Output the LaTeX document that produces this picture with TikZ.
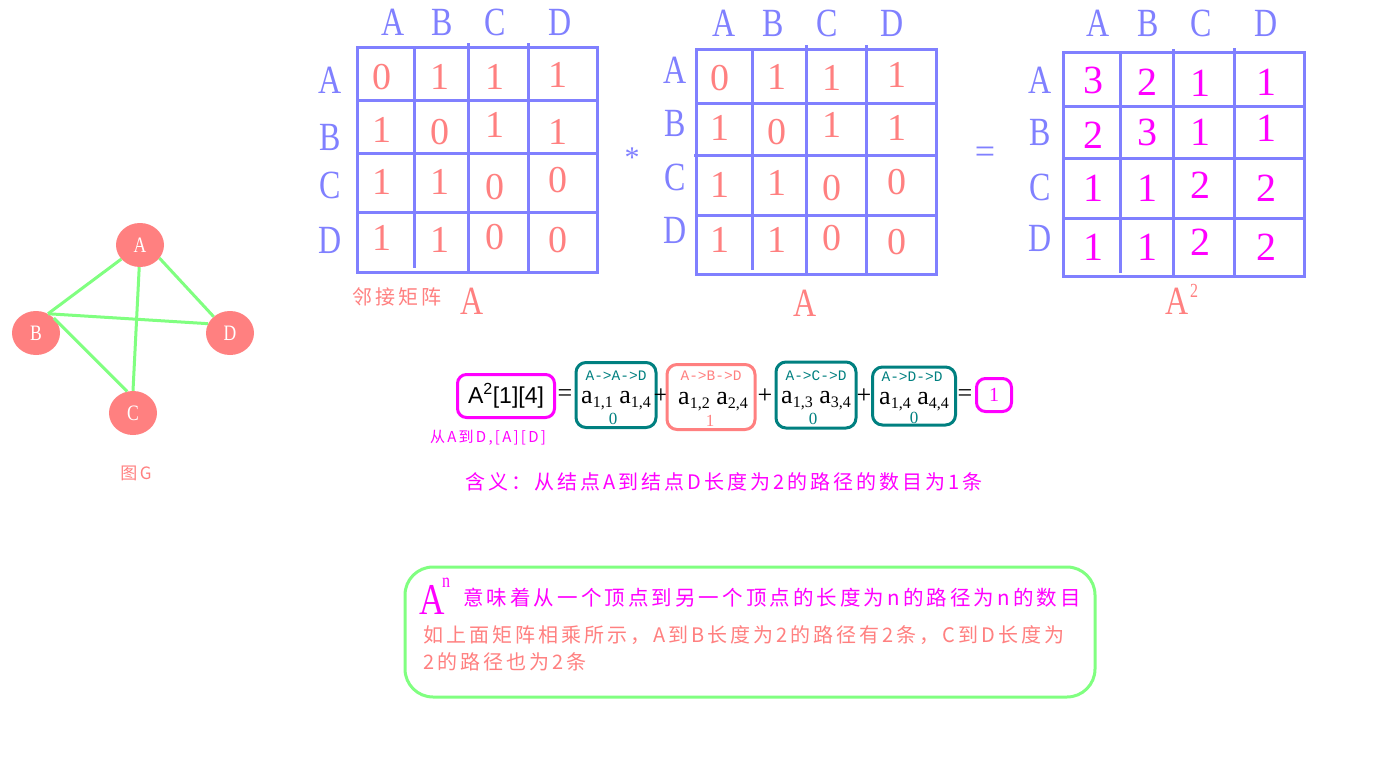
\documentclass[tikz,border=0pt]{standalone}
\usepackage{fontspec}
\setmainfont{Liberation Serif}
\newfontfamily\cjk[LetterSpace=15]{Noto Sans CJK SC}
\newfontfamily\cond[FakeStretch=0.8]{Liberation Serif}
\newfontfamily\monof{Liberation Mono}
\newfontfamily\sansf{Liberation Sans}
\usetikzlibrary{shapes.geometric}
\definecolor{gridblue}{HTML}{8080FF}
\definecolor{pinkred}{HTML}{FF8080}
\definecolor{mag}{HTML}{FF00FF}
\definecolor{grn}{HTML}{80FF80}
\definecolor{tealc}{HTML}{008080}
\newcommand\fsz[1]{\fontsize{#1}{#1}\selectfont}
\newcommand\sbs[1]{\raisebox{-0.35ex}{\fsz{16}#1}}
\begin{document}
\begin{tikzpicture}[x=1pt,y=-1pt,
  gridl/.style={draw=gridblue,line width=3pt},
  hdr/.style={text=gridblue,font={\cond\fsz{40}},inner sep=0pt},
  val/.style={text=pinkred,font={\fsz{38}},inner sep=0pt},
  valm/.style={text=mag,font={\fsz{40}},inner sep=0pt},
  gnode/.style={ellipse,fill=pinkred,minimum width=48pt,minimum height=44pt,inner sep=0pt,text=white,font={\cond\fsz{22}}},
  edge/.style={draw=grn,line width=3pt},
  tbox/.style={draw=tealc,line width=3pt,rounded corners=10pt,inner sep=0pt},
  pbox/.style={draw=pinkred,line width=3pt,rounded corners=10pt,inner sep=0pt},
  mbox/.style={draw=mag,line width=3pt,rounded corners=9pt,inner sep=0pt},
  plbl/.style={font={\monof\fsz{14.5}},inner sep=0pt},
  frm/.style={font={\fsz{26}},inner sep=0pt,text=black},
  dig/.style={font={\fsz{17}},inner sep=0pt},
  op/.style={font={\fsz{26}},inner sep=0pt,text=black}
]
\useasboundingbox (0,0) rectangle (1395,771);
\fill[white] (0,0) rectangle (1395,771);

% ---------- graph G ----------
\node[gnode] (A) at (140,245) {A};
\node[gnode] (B) at (36,333) {B};
\node[gnode] (D) at (230,333) {D};
\node[gnode] (C) at (133,413) {C};
\draw[edge] (A.217) -- (B.58);
\draw[edge] (A.326) -- (D.135);
\draw[edge] (A.268) -- (C.90);
\draw[edge] (B.58) -- (D.157);
\draw[edge] (B.40) -- (C.105);
\node[text=pinkred,font={\cjk\fsz{17}},inner sep=0pt] (gname) at (136,473) {图G};

% ---------- matrix 1 ----------
\draw[gridl] (357,47) rectangle (597,272);
\draw[gridl] (414,47) -- (414,268);
\draw[gridl] (468,43) -- (468,274);
\draw[gridl] (528,43) -- (528,272);
\draw[gridl] (357,100) -- (597,100);
\draw[gridl] (356,153) -- (597,153);
\draw[gridl] (357,212) -- (597,212);
\foreach \x/\t in {393/A,442/B,495/C,560/D} \node[hdr] (m1h\t) at (\x,22) {\t};
\foreach \y/\t in {80/A,137/B,185/C,240/D} \node[hdr] (m1r\t) at (330,\y) {\t};
\foreach \x/\y/\v/\n in {382/77/0/11,440/77/1/12,495/77/1/13,558/75/1/14,
  382/130/1/21,440/132/0/22,495/125/1/23,558/132/1/24,
  382/182/1/31,440/182/1/32,495/187/0/33,558/180/0/34,
  382/238/1/41,440/240/1/42,495/237/0/43,558/240/0/44}
  \node[val] (m1v\n) at (\x,\y) {\v};
\node[text=pinkred,font={\cjk\fsz{20}},inner sep=0pt] (adjname) at (397,297) {邻接矩阵};
\node[text=pinkred,font={\cond\fsz{40}},inner sep=0pt] (m1name) at (472,301) {A};

\node[text=gridblue,font={\fsz{30}},inner sep=0pt] (times) at (632,158) {*};

% ---------- matrix 2 ----------
\draw[gridl] (696,49) rectangle (936,274);
\draw[gridl] (752,49) -- (752,270);
\draw[gridl] (806,45) -- (806,276);
\draw[gridl] (866,45) -- (866,274);
\draw[gridl] (696,103) -- (936,103);
\draw[gridl] (694,155) -- (936,155);
\draw[gridl] (696,215) -- (936,215);
\foreach \x/\t in {724/A,773/B,827/C,892/D} \node[hdr] (m2h\t) at (\x,23) {\t};
\foreach \y/\t in {70/A,123/B,177/C,230/D} \node[hdr] (m2r\t) at (675,\y) {\t};
\foreach \x/\y/\v/\n in {720/78/0/11,777/77/1/12,832/78/1/13,897/75/1/14,
  720/128/1/21,777/132/0/22,832/125/1/23,897/128/1/24,
  720/185/1/31,777/183/1/32,832/188/0/33,897/182/0/34,
  720/240/1/41,777/240/1/42,832/238/0/43,897/242/0/44}
  \node[val] (m2v\n) at (\x,\y) {\v};
\node[text=pinkred,font={\cond\fsz{40}},inner sep=0pt] (m2name) at (805,303) {A};

\node[text=gridblue,font={\fsz{36}},inner sep=0pt] (equals) at (985,155) {=};

% ---------- matrix 3 ----------
\draw[gridl] (1063,52) rectangle (1304,276);
\draw[gridl] (1120,52) -- (1120,273);
\draw[gridl] (1173,49) -- (1173,278);
\draw[gridl] (1234,48) -- (1234,276);
\draw[gridl] (1063,106) -- (1304,106);
\draw[gridl] (1063,158) -- (1304,158);
\draw[gridl] (1063,218) -- (1304,218);
\foreach \x/\t in {1098/A,1148/B,1201/C,1266/D} \node[hdr] (m3h\t) at (\x,23) {\t};
\foreach \y/\t in {80/A,132/B,187/C,238/D} \node[hdr] (m3r\t) at (1040,\y) {\t};
\foreach \x/\y/\v/\n in {1093/80/3/11,1147/82/2/12,1200/83/1/13,1266/82/1/14,
  1093/135/2/21,1147/132/3/22,1200/132/1/23,1266/128/1/24,
  1093/188/1/31,1147/188/1/32,1200/185/2/33,1266/188/2/34,
  1093/247/1/41,1147/247/1/42,1200/242/2/43,1266/247/2/44}
  \node[valm] (m3v\n) at (\x,\y) {\v};
\node[text=pinkred,font={\cond\fsz{40}},inner sep=0pt,anchor=base] (m3name) at (1182,314) {A\kern1pt\raisebox{17pt}{\fsz{20}2}};

% ---------- formula row ----------
\node[mbox,minimum width=97pt,minimum height=43pt] (q) at (506,396) {};
\node[font={\sansf\fsz{23}},inner sep=0pt] (qt) at (q) {A\textsuperscript{2}[1][4]};
\node[op] (eq1) at (565,396) {=};

\node[tbox,minimum width=80pt,minimum height=65pt] (b1) at (616,395) {};
\node[plbl,text=tealc] (b1t) at (616,376) {A->A->D};
\node[frm] (b1f) at (616,401) {a\sbs{1,1} a\sbs{1,4}};
\node[dig,text=tealc] (b1d) at (613,419) {0};
\node[op] (pl1) at (661,396) {+};

\node[pbox,minimum width=88pt,minimum height=65pt] (b2) at (711,397) {};
\node[plbl,text=pinkred] (b2t) at (711,376) {A->B->D};
\node[frm] (b2f) at (713,402) {a\sbs{1,2} a\sbs{2,4}};
\node[dig,text=pinkred] (b2d) at (710,421) {1};
\node[op] (pl2) at (765,396) {+};

\node[tbox,minimum width=80pt,minimum height=66pt] (b3) at (816,395) {};
\node[plbl,text=tealc] (b3t) at (816,376) {A->C->D};
\node[frm] (b3f) at (816,401) {a\sbs{1,3} a\sbs{3,4}};
\node[dig,text=tealc] (b3d) at (813,419) {0};
\node[op] (pl3) at (864,396) {+};

\node[tbox,minimum width=83pt,minimum height=58pt] (b4) at (914,396) {};
\node[plbl,text=tealc] (b4t) at (912,377) {A->D->D};
\node[frm] (b4f) at (914,402) {a\sbs{1,4} a\sbs{4,4}};
\node[dig,text=tealc] (b4d) at (914,418) {0};
\node[op] (eq2) at (965,396) {=};

\node[mbox,minimum width=35pt,minimum height=33pt] (r) at (994,395) {};
\node[font={\fsz{20}},text=mag,inner sep=0pt] (rt) at (r) {1};

\node[text=mag,font={\cjk\fsz{15}},inner sep=0pt] (qnote) at (488,438) {从A到D,[A][D]};
\node[text=mag,font={\cjk\fsz{20}},inner sep=0pt] (meaning) at (724,482) {含义：从结点A到结点D长度为2的路径的数目为1条};

% ---------- bottom box ----------
\node[draw=grn,line width=3pt,rounded corners=28pt,minimum width=690pt,minimum height=130pt,inner sep=0pt] (bb) at (750,632) {};
\node[text=mag,font={\cond\fsz{44}},inner sep=0pt] (an) at (432,600) {A};
\node[text=mag,font={\cond\fsz{20}},inner sep=0pt] (ann) at (446,583) {n};
\node[text=mag,font={\cjk\fsz{20.5}},inner sep=0pt,anchor=west] (l1) at (463,598) {意味着从一个顶点到另一个顶点的长度为n的路径为n的数目};
\node[text=pinkred,font={\cjk\fsz{20}},inner sep=0pt,anchor=west] (l2) at (423,635) {如上面矩阵相乘所示，A到B长度为2的路径有2条，C到D长度为};
\node[text=pinkred,font={\cjk\fsz{20}},inner sep=0pt,anchor=west] (l3) at (423,662) {2的路径也为2条};
\end{tikzpicture}
\end{document}
